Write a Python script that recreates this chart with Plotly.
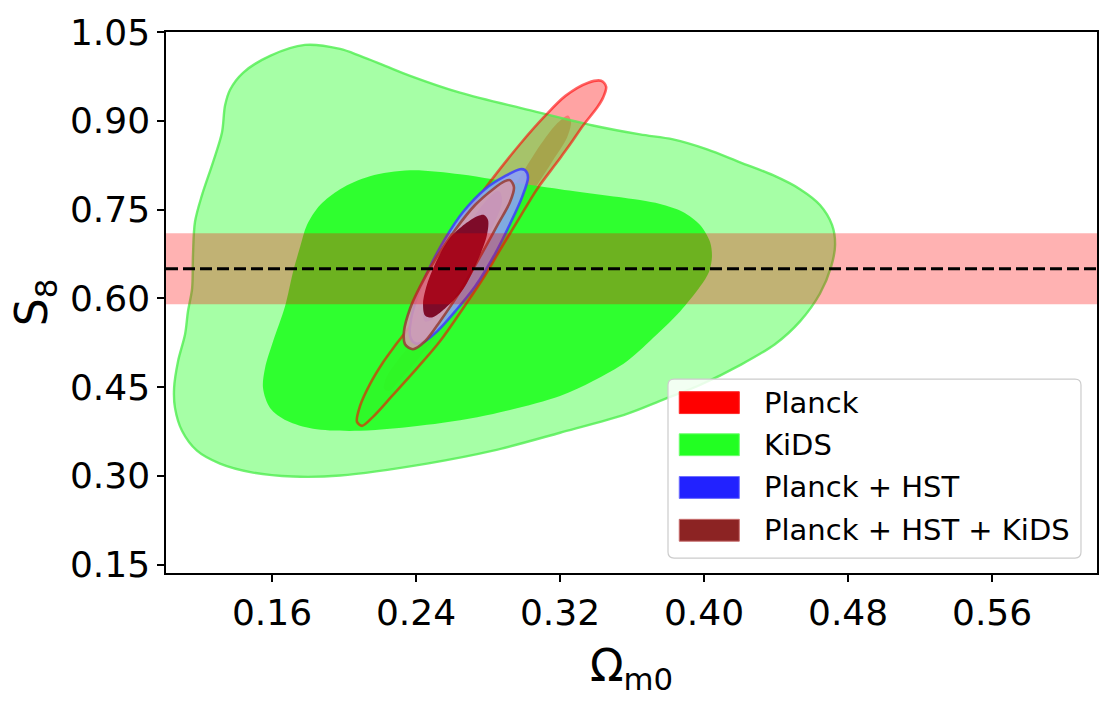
import plotly.graph_objects as go

# ---------------- axes ----------------
x_ticks = [0.16, 0.24, 0.32, 0.40, 0.48, 0.56]
y_ticks = [0.15, 0.30, 0.45, 0.60, 0.75, 0.90, 1.05]
x_range = [0.1011, 0.6183]
y_range = [0.1357, 1.05]

# horizontal S8 prior band
s8_band_center = 0.65
s8_band_halfwidth = 0.06

legend_labels = ["Planck", "KiDS", "Planck + HST", "Planck + HST + KiDS"]

# ---------------- contours (Omega_m0, S8) ----------------
kids_2s_x = [0.1783, 0.1978, 0.2089, 0.2228, 0.2367, 0.2644, 0.3017, 0.3383, 0.3644, 0.3828,
             0.4017, 0.4200, 0.4383, 0.4533, 0.4644, 0.4711, 0.4728, 0.4706, 0.4644, 0.4533,
             0.4394, 0.4200, 0.3978, 0.3756, 0.3572, 0.3200, 0.2828, 0.2461, 0.1978, 0.1717,
             0.1494, 0.1311, 0.1183, 0.1100, 0.1061, 0.1056, 0.1078, 0.1117, 0.1133, 0.1156,
             0.1161, 0.1172, 0.1211, 0.1272, 0.1322, 0.1339, 0.1367, 0.1439, 0.1589]
kids_2s_y = [1.0282, 1.0214, 1.0097, 0.9929, 0.9760, 0.9475, 0.9189, 0.8920, 0.8769, 0.8685,
             0.8517, 0.8298, 0.8080, 0.7844, 0.7576, 0.7239, 0.6903, 0.6534, 0.6080, 0.5609,
             0.5223, 0.4870, 0.4534, 0.4265, 0.4046, 0.3727, 0.3424, 0.3206, 0.3004, 0.2987,
             0.3054, 0.3206, 0.3424, 0.3760, 0.4147, 0.4483, 0.4937, 0.5391, 0.5777, 0.6164,
             0.6735, 0.7290, 0.7744, 0.8298, 0.8802, 0.9256, 0.9525, 0.9811, 1.0097]

kids_1s_x = [0.2367, 0.2644, 0.2828, 0.3200, 0.3644, 0.3756, 0.3883, 0.3978, 0.4033, 0.4044,
             0.4028, 0.3978, 0.3867, 0.3739, 0.3572, 0.3383, 0.3200, 0.2828, 0.2461, 0.2089,
             0.1828, 0.1683, 0.1589, 0.1550, 0.1561, 0.1606, 0.1672, 0.1717, 0.1756, 0.1794,
             0.1867, 0.1978, 0.2144]
kids_1s_y = [0.8164, 0.8097, 0.8013, 0.7844, 0.7660, 0.7592, 0.7458, 0.7239, 0.6954, 0.6702,
             0.6450, 0.6197, 0.5777, 0.5391, 0.4937, 0.4601, 0.4349, 0.4046, 0.3861, 0.3760,
             0.3794, 0.3928, 0.4147, 0.4483, 0.4819, 0.5273, 0.5861, 0.6450, 0.6870, 0.7239,
             0.7576, 0.7844, 0.8063]

planck_2s_x = [0.3428, 0.3456, 0.3439, 0.3406, 0.3328, 0.3256, 0.3183, 0.3072, 0.2961, 0.2867,
               0.2772, 0.2661, 0.2533, 0.2406, 0.2267, 0.2161, 0.2100, 0.2072, 0.2089, 0.2144,
               0.2217, 0.2289, 0.2383, 0.2510, 0.2628, 0.2756, 0.2870, 0.2990, 0.3110, 0.3230,
               0.3356]
planck_2s_y = [0.9676, 0.9576, 0.9391, 0.9223, 0.8920, 0.8601, 0.8298, 0.7844, 0.7290, 0.6819,
               0.6332, 0.5828, 0.5273, 0.4819, 0.4349, 0.3996, 0.3844, 0.3912, 0.4181, 0.4550,
               0.4920, 0.5223, 0.5609, 0.6500, 0.7206, 0.7744, 0.8200, 0.8650, 0.9060, 0.9420,
               0.9643]

planck_1s_x = [0.3244, 0.3261, 0.3239, 0.3161, 0.3072, 0.2961, 0.2850, 0.2733, 0.2617, 0.2500,
               0.2394, 0.2306, 0.2250, 0.2222, 0.2233, 0.2294, 0.2367, 0.2467, 0.2578, 0.2689,
               0.2794, 0.2894, 0.2994, 0.3089, 0.3178]
planck_1s_y = [0.9088, 0.8987, 0.8718, 0.8332, 0.7912, 0.7408, 0.6870, 0.6332, 0.5811, 0.5323,
               0.4903, 0.4601, 0.4433, 0.4466, 0.4651, 0.4937, 0.5206, 0.5609, 0.6113, 0.6651,
               0.7189, 0.7660, 0.8130, 0.8584, 0.8937]

hst_2s_x = [0.3006, 0.3022, 0.2989, 0.2922, 0.2839, 0.2728, 0.2617, 0.2517, 0.2439, 0.2394,
            0.2367, 0.2372, 0.2411, 0.2478, 0.2561, 0.2661, 0.2783, 0.2894, 0.2978]
hst_2s_y = [0.8164, 0.8046, 0.7710, 0.7256, 0.6752, 0.6197, 0.5777, 0.5441, 0.5256, 0.5239,
            0.5357, 0.5643, 0.6063, 0.6534, 0.7004, 0.7458, 0.7844, 0.8063, 0.8181]

hst_1s_x = [0.2867, 0.2878, 0.2811, 0.2700, 0.2589, 0.2489, 0.2450, 0.2439, 0.2478, 0.2561,
            0.2672, 0.2783, 0.2850]
hst_1s_y = [0.7794, 0.7626, 0.7122, 0.6534, 0.6029, 0.5643, 0.5609, 0.5744, 0.6113, 0.6618,
            0.7155, 0.7626, 0.7811]

all_2s_x = [0.2922, 0.2944, 0.2922, 0.2856, 0.2756, 0.2644, 0.2533, 0.2450, 0.2383, 0.2339,
            0.2333, 0.2367, 0.2422, 0.2506, 0.2617, 0.2728, 0.2828, 0.2894]
all_2s_y = [0.7996, 0.7878, 0.7626, 0.7256, 0.6702, 0.6113, 0.5609, 0.5273, 0.5139, 0.5223,
            0.5441, 0.5828, 0.6197, 0.6651, 0.7155, 0.7576, 0.7844, 0.7979]

all_1s_x = [0.2778, 0.2800, 0.2794, 0.2744, 0.2661, 0.2561, 0.2489, 0.2450, 0.2439, 0.2461,
            0.2517, 0.2589, 0.2672, 0.2744]
all_1s_y = [0.7408, 0.7323, 0.7071, 0.6651, 0.6147, 0.5828, 0.5676, 0.5710, 0.5912, 0.6231,
            0.6651, 0.7021, 0.7256, 0.7391]


def closed(v):
    return list(v) + [v[0]]


def region(xs, ys, fillcolor, line_color="rgba(0,0,0,0)", line_width=0.0, fill=True):
    return go.Scatter(
        x=closed(xs), y=closed(ys), mode="lines",
        fill="toself" if fill else "none",
        fillcolor=fillcolor if fill else None,
        line=dict(color=line_color, width=line_width, shape="spline", smoothing=0.9),
        hoverinfo="skip", showlegend=False,
    )


fig = go.Figure()
# Planck fills (underneath KiDS)
fig.add_trace(region(planck_2s_x, planck_2s_y, "rgba(255,0,0,0.36)"))
fig.add_trace(region(planck_1s_x, planck_1s_y, "rgba(255,0,0,0.28)"))
# KiDS
fig.add_trace(region(kids_2s_x, kids_2s_y, "rgba(0,255,0,0.35)", "rgba(80,238,80,0.8)", 2.4))
fig.add_trace(region(kids_1s_x, kids_1s_y, "rgba(34,255,34,0.9)"))
# Planck outline
fig.add_trace(region(planck_2s_x, planck_2s_y, None, "rgba(255,0,0,0.6)", 2.6, fill=False))
# Planck + HST
fig.add_trace(region(hst_2s_x, hst_2s_y, "rgba(140,160,250,0.88)", "rgba(60,60,255,0.85)", 2.6))
fig.add_trace(region(hst_1s_x, hst_1s_y, "rgba(105,115,240,0.88)"))
# Planck + HST + KiDS
fig.add_trace(region(all_2s_x, all_2s_y, "rgba(215,155,175,0.86)", "rgba(150,60,50,0.85)", 2.6))
fig.add_trace(region(all_1s_x, all_1s_y, "rgba(120,0,30,0.93)"))

shapes = [
    dict(type="rect", xref="paper", yref="y", x0=0, x1=1,
         y0=s8_band_center - s8_band_halfwidth, y1=s8_band_center + s8_band_halfwidth,
         fillcolor="rgba(255,0,0,0.3)", line=dict(width=0), layer="above"),
    dict(type="line", xref="paper", yref="y", x0=0, x1=1,
         y0=s8_band_center, y1=s8_band_center,
         line=dict(color="black", width=3, dash="12px,5px"), layer="above"),
]

# ---- legend drawn in the lower right of the axes ----
lx0, lx1, ly0, ly1 = 0.5392, 0.9828, 0.0276, 0.3585
rx, ry = 0.0065, 0.011
legend_path = (f"M{lx0+rx},{ly0} L{lx1-rx},{ly0} Q{lx1},{ly0} {lx1},{ly0+ry} "
               f"L{lx1},{ly1-ry} Q{lx1},{ly1} {lx1-rx},{ly1} L{lx0+rx},{ly1} "
               f"Q{lx0},{ly1} {lx0},{ly1-ry} L{lx0},{ly0+ry} Q{lx0},{ly0} {lx0+rx},{ly0} Z")
shapes.append(dict(type="path", xref="paper", yref="paper", path=legend_path,
                   fillcolor="rgba(255,255,255,0.85)", line=dict(color="#cccccc", width=1.2),
                   layer="above"))

patch_fill = ["rgb(255,0,0)", "rgb(34,255,34)", "rgb(34,34,255)", "rgb(140,35,35)"]
patch_edge = ["rgb(255,40,40)", "rgb(110,255,110)", "rgb(110,110,255)", "rgb(200,110,110)"]
row_y = [0.3149, 0.2371, 0.1581, 0.0790]
patch_h = 0.0202
annotations = []
for lab, fc, ec, yc in zip(legend_labels, patch_fill, patch_edge, row_y):
    shapes.append(dict(type="rect", xref="paper", yref="paper", x0=0.5513, x1=0.6158,
                       y0=yc - patch_h, y1=yc + patch_h, fillcolor=fc,
                       line=dict(color=ec, width=1), layer="above"))
    annotations.append(dict(xref="paper", yref="paper", x=0.6405, y=yc, text=lab,
                            showarrow=False, xanchor="left", yanchor="middle",
                            font=dict(family="DejaVu Sans", size=29, color="black")))

fig.update_layout(
    width=1119, height=705,
    margin=dict(l=166, r=22, t=29, b=132),
    paper_bgcolor="white", plot_bgcolor="white",
    font=dict(family="DejaVu Sans", color="black"),
    shapes=shapes, annotations=annotations, showlegend=False,
    xaxis=dict(range=x_range, tickvals=x_ticks, ticktext=[f"{v:.2f}" for v in x_ticks],
               ticks="outside", ticklen=7, tickwidth=1.5, tickcolor="black",
               showline=True, linecolor="black", linewidth=1.5, mirror=True,
               showgrid=False, zeroline=False, tickfont=dict(size=36),
               title=dict(text="Ω<sub>m0</sub>", font=dict(size=44), standoff=18)),
    yaxis=dict(range=y_range, tickvals=y_ticks, ticktext=[f"{v:.2f}" for v in y_ticks],
               ticks="outside", ticklen=7, tickwidth=1.5, tickcolor="black",
               showline=True, linecolor="black", linewidth=1.5, mirror=True,
               showgrid=False, zeroline=False, tickfont=dict(size=36),
               title=dict(text="S<sub>8</sub>", font=dict(size=44), standoff=8)),
)

fig.write_html("out.html")
